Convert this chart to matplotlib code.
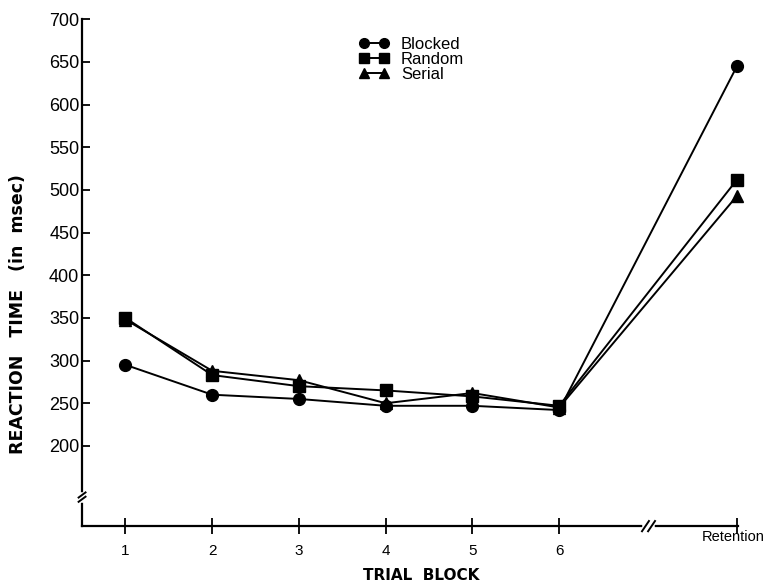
import matplotlib
matplotlib.use('Agg')
from matplotlib import pyplot as plt
from matplotlib.lines import Line2D

# trial blocks (Retention sits past an axis break)
x_pos = [1, 2, 3, 4, 5, 6, 8.05]
x_labels = ['1', '2', '3', '4', '5', '6', 'Retention']

blocked = [295, 260, 255, 247, 247, 242, 645]
random_ = [350, 283, 270, 265, 258, 247, 512]
serial = [348, 288, 277, 250, 262, 245, 493]

y_ticks = [200, 250, 300, 350, 400, 450, 500, 550, 600, 650, 700]

plt.rcParams['font.family'] = ['Liberation Sans', 'DejaVu Sans']

fig = plt.figure(figsize=(7.67, 5.82), dpi=100)
ax = fig.add_axes([0.107, 0.096, 0.855, 0.871])

series = [(blocked, 'o', 'Blocked'), (random_, 's', 'Random'), (serial, '^', 'Serial')]
for vals, mk, name in series:
    ax.plot(x_pos, vals, color='black', lw=1.4, marker=mk, markersize=8.5,
            clip_on=False, zorder=3, label=name)

ax.set_xlim(0.5, 8.06)
ax.set_ylim(106, 700)
ax.set_xticks(x_pos)
# 'Retention' is written separately, higher up and flush right
ax.set_xticklabels(x_labels[:-1] + [''], fontsize=11)
fig.text(0.997, 0.077, x_labels[-1], fontsize=10.5, ha='right', va='center')
ax.set_yticks(y_ticks)
ax.set_yticklabels([str(v) for v in y_ticks], fontsize=13)

ax.spines['top'].set_visible(False)
ax.spines['right'].set_visible(False)
for s in ['left', 'bottom']:
    ax.spines[s].set_linewidth(1.6)
ax.tick_params(axis='y', direction='in', length=6, width=1.3, pad=2)
ax.tick_params(axis='x', direction='inout', length=12, width=1.3, pad=7)

# axis breaks
brk = dict(color='black', lw=1.4, clip_on=False, zorder=5)
ybr = 140
ax.plot([0.5, 0.5], [ybr - 3, ybr + 3], color='white', lw=4, clip_on=False, zorder=4)
for dy in (-2.5, 2.5):
    ax.plot([0.46, 0.54], [ybr + dy - 3, ybr + dy + 3], **brk)
xbr = 7.03
ax.plot([xbr - 0.04, xbr + 0.04], [106, 106], color='white', lw=4, clip_on=False, zorder=4)
for dx in (-0.035, 0.035):
    ax.plot([xbr + dx - 0.04, xbr + dx + 0.04], [100, 112], **brk)

fig.text(0.024, 0.46, 'REACTION   TIME   (in  msec)', fontsize=12.5, fontweight='bold',
         family='DejaVu Sans', rotation=90, ha='center', va='center')
fig.text(0.549, 0.012, 'TRIAL  BLOCK', fontsize=11, fontweight='bold',
         family='DejaVu Sans', ha='center', va='center')

handles = [Line2D([], [], color='black', lw=1.4, marker=mk, markersize=7)
           for _, mk, _ in series]
ax.legend(handles, [n for _, _, n in series], loc='upper left',
          bbox_to_anchor=(0.40, 0.995), frameon=False, fontsize=12,
          numpoints=2, handlelength=1.8, labelspacing=0.0, handletextpad=0.7)

plt.savefig('out.png', dpi=100)
